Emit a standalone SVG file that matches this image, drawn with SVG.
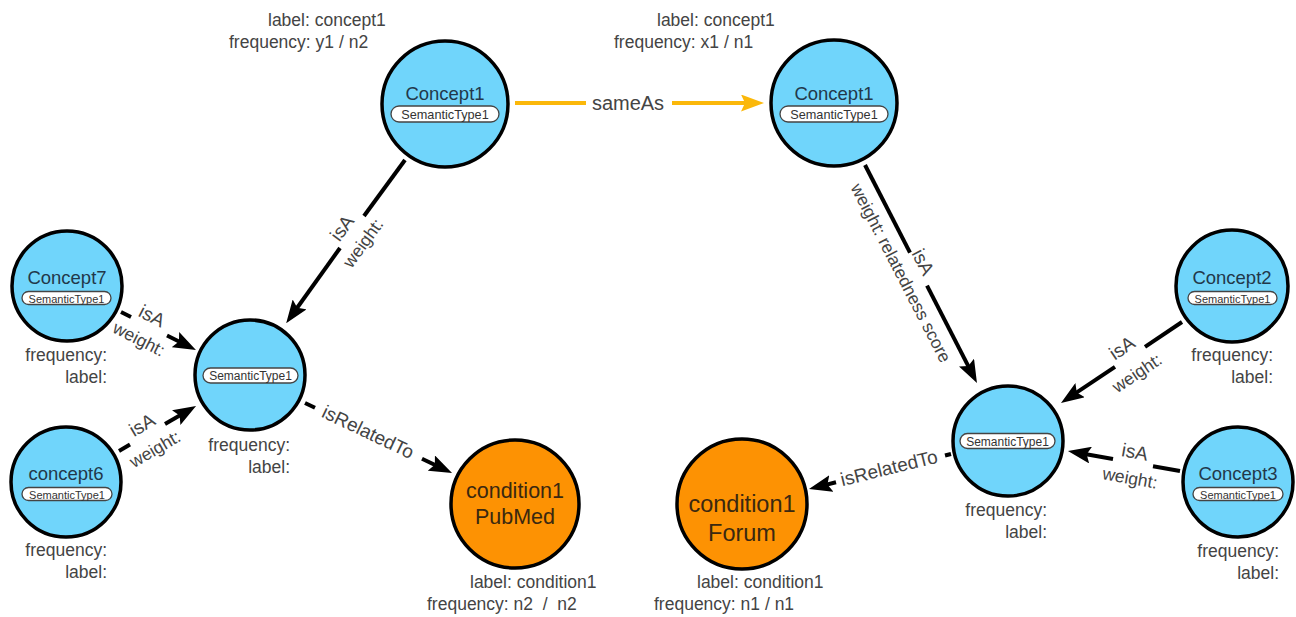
<svg xmlns="http://www.w3.org/2000/svg" width="1296" height="617" viewBox="0 0 1296 617">
<style>
.blue{fill:#70d5fb;stroke:#000;stroke-width:3.5}
.orange{fill:#fd9203;stroke:#000;stroke-width:3.5}
.title{font-family:"Liberation Sans",Arial,sans-serif;font-size:18.5px;fill:#22384a;text-anchor:middle;dominant-baseline:central}
.ctitle{font-family:"Liberation Sans",Arial,sans-serif;fill:#3a2810;text-anchor:middle;dominant-baseline:central}
.pill{fill:#fff;stroke:#444;stroke-width:1.3}
.pt{font-family:"Liberation Sans",Arial,sans-serif;fill:#333;text-anchor:middle;dominant-baseline:central}
.prop{font-family:"Liberation Sans",Arial,sans-serif;font-size:17.5px;fill:#444}
.r{text-anchor:end}
.edge{stroke:#000;stroke-width:4;fill:none}
.same{stroke:#fbb80a;stroke-width:4;fill:none}
.el{font-family:"Liberation Sans",Arial,sans-serif;font-size:19px;fill:#444;text-anchor:middle;dominant-baseline:central}
.ew{font-family:"Liberation Sans",Arial,sans-serif;font-size:17.5px;fill:#444;text-anchor:middle;dominant-baseline:central}
</style>
<defs>
<marker id="ab" markerUnits="userSpaceOnUse" viewBox="0 0 23 17" refX="13" refY="8.5" markerWidth="23" markerHeight="17" orient="auto"><path d="M0,0 L23,8.5 L0,17 L4,8.5 Z" fill="#000"/></marker>
<marker id="ay" markerUnits="userSpaceOnUse" viewBox="0 0 23 17" refX="13" refY="8.5" markerWidth="23" markerHeight="17" orient="auto"><path d="M0,0 L23,8.5 L0,17 L4,8.5 Z" fill="#fbb80a"/></marker>
</defs>
<rect width="1296" height="617" fill="#fff"/>

<g id="connectors">
<line class="same" x1="515" y1="103" x2="586" y2="103"/>
<line class="same" x1="672" y1="103" x2="754" y2="103" marker-end="url(#ay)"/>
<text class="el" x="628" y="103" style="font-size:20px">sameAs</text>

<line class="edge" x1="405" y1="160" x2="364" y2="216"/>
<line class="edge" x1="340" y1="248" x2="292" y2="315" marker-end="url(#ab)"/>
<text class="el" transform="translate(342,228) rotate(-53.9)">isA</text>
<text class="ew" transform="translate(363,243) rotate(-53.9)">weight:</text>

<line class="edge" x1="121" y1="312" x2="131" y2="317"/>
<line class="edge" x1="167" y1="335.5" x2="187" y2="345.5" marker-end="url(#ab)"/>
<text class="el" transform="translate(152,316) rotate(26.9)">isA</text>
<text class="ew" transform="translate(139,339) rotate(26.9)">weight:</text>

<line class="edge" x1="119" y1="451" x2="130" y2="444.6"/>
<line class="edge" x1="165" y1="424" x2="187.4" y2="411" marker-end="url(#ab)"/>
<text class="el" transform="translate(142,425) rotate(-30.3)">isA</text>
<text class="ew" transform="translate(155,449) rotate(-30.3)">weight:</text>

<line class="edge" x1="305" y1="403" x2="315" y2="407.8"/>
<line class="edge" x1="422" y1="458.7" x2="443" y2="468.7" marker-end="url(#ab)"/>
<text class="el" transform="translate(368,432) rotate(25.5)">isRelatedTo</text>

<line class="edge" x1="865" y1="165" x2="910" y2="252.6"/>
<line class="edge" x1="927" y1="285.7" x2="972.4" y2="374.1" marker-end="url(#ab)"/>
<text class="el" transform="translate(923,262) rotate(62.8)">isA</text>
<text class="ew" transform="translate(901,273) rotate(62.8)">weight: relatedness score</text>

<line class="edge" x1="1182" y1="322" x2="1145" y2="346.8"/>
<line class="edge" x1="1115" y1="366.9" x2="1069.3" y2="397.4" marker-end="url(#ab)"/>
<text class="el" transform="translate(1122,348) rotate(-33.8)">isA</text>
<text class="ew" transform="translate(1137,373) rotate(-33.8)">weight:</text>

<line class="edge" x1="1180" y1="471" x2="1153" y2="466.2"/>
<line class="edge" x1="1113" y1="459" x2="1077.8" y2="452.8" marker-end="url(#ab)"/>
<text class="el" transform="translate(1135,452) rotate(10.1)">isA</text>
<text class="ew" transform="translate(1130,478) rotate(10.1)">weight:</text>

<line class="edge" x1="951" y1="454" x2="945" y2="455.5"/>
<line class="edge" x1="836" y1="482.3" x2="818.7" y2="486.6" marker-end="url(#ab)"/>
<text class="el" transform="translate(889,468) rotate(-13.8)">isRelatedTo</text>
</g>

<g id="concept1-left">
<circle class="blue" cx="445" cy="104" r="63"/>
<text class="title" x="445" y="93">Concept1</text>
<rect class="pill" x="391" y="106" width="108" height="16" rx="8"/>
<text class="pt" x="445" y="114.5" style="font-size:12.7px">SemanticType1</text>
<text class="prop" x="268" y="26">label: concept1</text>
<text class="prop" x="229" y="48">frequency: y1 / n2</text>
</g>

<g id="concept1-right">
<circle class="blue" cx="834" cy="103" r="63"/>
<text class="title" x="834" y="93">Concept1</text>
<rect class="pill" x="780" y="106" width="108" height="16" rx="8"/>
<text class="pt" x="834" y="114.5" style="font-size:12.7px">SemanticType1</text>
<text class="prop" x="657" y="26">label: concept1</text>
<text class="prop" x="614" y="48">frequency: x1 / n1</text>
</g>

<g id="concept7">
<circle class="blue" cx="67" cy="286" r="55"/>
<text class="title" x="67" y="277">Concept7</text>
<rect class="pill" x="22" y="291.5" width="89" height="13" rx="6.5"/>
<text class="pt" x="66.5" y="298.5" style="font-size:11px">SemanticType1</text>
<text class="prop r" x="107" y="361">frequency:</text>
<text class="prop r" x="107" y="383">label:</text>
</g>

<g id="concept6">
<circle class="blue" cx="66" cy="482" r="55"/>
<text class="title" x="66" y="473">concept6</text>
<rect class="pill" x="22" y="487.5" width="90" height="13" rx="6.5"/>
<text class="pt" x="67" y="494.5" style="font-size:11px">SemanticType1</text>
<text class="prop r" x="107" y="556">frequency:</text>
<text class="prop r" x="107" y="578">label:</text>
</g>

<g id="semantic-left">
<circle class="blue" cx="250" cy="375" r="55"/>
<rect class="pill" x="203" y="368" width="95" height="15" rx="7.5"/>
<text class="pt" x="250.5" y="376" style="font-size:12px">SemanticType1</text>
<text class="prop r" x="290" y="451">frequency:</text>
<text class="prop r" x="290" y="473">label:</text>
</g>

<g id="condition-pubmed">
<circle class="orange" cx="515" cy="504" r="64"/>
<text class="ctitle" x="515" y="491" style="font-size:21.5px">condition1</text>
<text class="ctitle" x="515" y="517" style="font-size:21.5px">PubMed</text>
<text class="prop" x="470" y="588">label: condition1</text>
<text class="prop" x="427" y="610" style="white-space:pre">frequency: n2  /  n2</text>
</g>

<g id="condition-forum">
<circle class="orange" cx="742" cy="504" r="65"/>
<text class="ctitle" x="742" y="504" style="font-size:23.5px">condition1</text>
<text class="ctitle" x="742" y="533" style="font-size:23.5px">Forum</text>
<text class="prop" x="697" y="588">label: condition1</text>
<text class="prop" x="654" y="610">frequency: n1 / n1</text>
</g>

<g id="semantic-right">
<circle class="blue" cx="1008" cy="441" r="55"/>
<rect class="pill" x="960" y="433.5" width="95" height="15" rx="7.5"/>
<text class="pt" x="1007.5" y="441.5" style="font-size:12px">SemanticType1</text>
<text class="prop r" x="1047" y="516">frequency:</text>
<text class="prop r" x="1047" y="538">label:</text>
</g>

<g id="concept2">
<circle class="blue" cx="1232" cy="286" r="56"/>
<text class="title" x="1232" y="277">Concept2</text>
<rect class="pill" x="1188" y="291.5" width="89" height="13" rx="6.5"/>
<text class="pt" x="1232.5" y="298.5" style="font-size:11px">SemanticType1</text>
<text class="prop r" x="1273" y="361">frequency:</text>
<text class="prop r" x="1273" y="383">label:</text>
</g>

<g id="concept3">
<circle class="blue" cx="1238" cy="482" r="55"/>
<text class="title" x="1238" y="473">Concept3</text>
<rect class="pill" x="1193" y="487.5" width="90" height="13" rx="6.5"/>
<text class="pt" x="1238" y="494.5" style="font-size:11px">SemanticType1</text>
<text class="prop r" x="1279" y="557">frequency:</text>
<text class="prop r" x="1279" y="579">label:</text>
</g>
</svg>
